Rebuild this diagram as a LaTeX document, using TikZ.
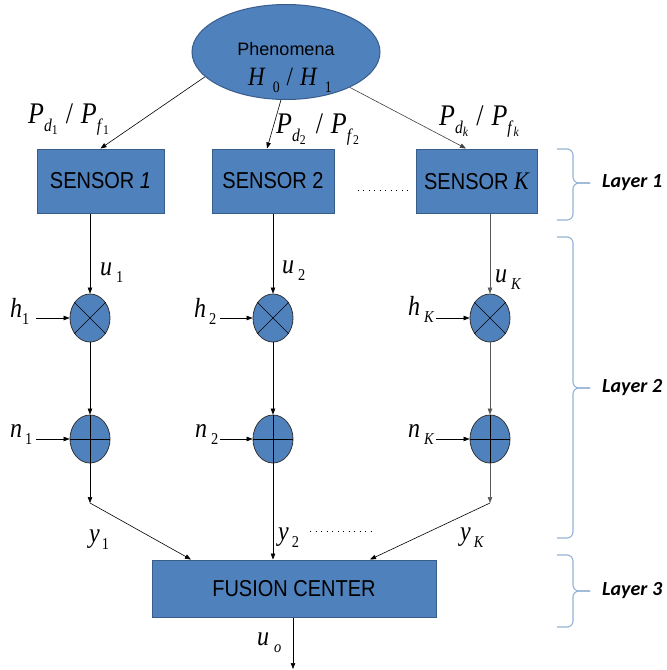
\documentclass[tikz,border=0pt]{standalone}
\usepackage{fontspec}
\usepackage{graphicx}
\usetikzlibrary{arrows.meta,shapes.geometric,calc}
\newfontfamily\arialf{Liberation Sans}
\newfontfamily\timesf{Liberation Serif}
\newfontfamily\calf{Carlito}
\definecolor{boxfill}{HTML}{4F81BD}
\definecolor{boxline}{HTML}{385D8A}
\definecolor{bracec}{HTML}{95B3D7}
\newcommand{\vs}[1]{\scalebox{1}[1.15]{#1}}
\newcommand{\ml}[3][0pt]{\textit{#2}\hspace{#1}\raisebox{-0.28em}{\scalebox{0.6}{#3}}}
\newcommand{\pp}[2]{\ml{P}{\textit{#1}\raisebox{-0.2em}{\scalebox{0.75}{#2}}}}
\begin{document}
\begin{tikzpicture}[x=1pt,y=-1pt,
  arr/.style={-{Triangle[length=6pt,width=4.5pt]}, line width=0.6pt},
  sbox/.style={rectangle, draw=boxline, fill=boxfill, line width=1pt, inner sep=0pt, minimum height=64pt, font=\arialf\fontsize{20}{20}\selectfont},
  op/.style={ellipse, draw=black!80, fill=boxfill, line width=0.8pt, minimum width=40pt, minimum height=48pt, inner sep=0pt},
  mlab/.style={font=\timesf\fontsize{24}{24}\selectfont, inner sep=0pt, anchor=base west},
  plab/.style={font=\timesf\fontsize{26}{26}\selectfont, inner sep=0pt, anchor=base west},
  brc/.style={draw=bracec, line width=1.1pt, rounded corners=6pt},
  llab/.style={font=\calf\bfseries\itshape\fontsize{20}{20}\selectfont, anchor=west, inner sep=0pt},
  dots/.style={line width=1pt, dash pattern=on 1pt off 4.5pt}]
\fill[white] (0,0) rectangle (667,670);
\useasboundingbox (0,0) rectangle (667,670);

% phenomena
\node[ellipse, draw=boxline, fill=boxfill, line width=1pt, minimum width=188pt, minimum height=95pt, inner sep=0pt] (phen) at (286,52) {};
\node[anchor=base, font=\arialf\fontsize{18}{18}\selectfont, inner sep=0pt] (phtxt) at (286,55) {Phenomena};
\node[font=\timesf\fontsize{23}{23}\selectfont, inner sep=0pt, anchor=base west] (hyp) at (248,85) {\vs{\ml[7pt]{H}{0}\hspace{7pt}/\hspace{7pt}\ml[7pt]{H}{1}}};

% sensors
\node[sbox, minimum width=127pt] (s1) at (100.5,181) {\vs{SENSOR \textit{1}}};
\node[sbox, minimum width=122pt] (s2) at (273,181) {\vs{SENSOR 2}};
\node[sbox, minimum width=121pt] (sK) at (476.5,181) {\vs{SENSOR {\timesf\itshape\fontsize{22}{22}\selectfont K}}};

% probability labels
\node[plab] (pl1) at (28,123) {\vs{\pp{d}{1}\hspace{8pt}/\hspace{8pt}\pp{f}{1}}};
\node[plab] (pl2) at (276,133) {\vs{\pp{d}{2}\hspace{10pt}/\hspace{8pt}\pp{f}{2}}};
\node[plab] (plK) at (439,125) {\vs{\pp{d}{\textit{k}}\hspace{8pt}/\hspace{8pt}\pp{f}{\textit{k}}}};

% multipliers and adders
\foreach \n/\x in {1/90,2/273,K/490}{
  \node[op] (m\n) at (\x,318) {};
  \node[op] (a\n) at (\x,439) {};
  \draw[line width=0.6pt] (m\n.45) -- (m\n.225) (m\n.135) -- (m\n.315);
  \draw[line width=0.6pt] (a\n.north) -- (a\n.south) (a\n.west) -- (a\n.east);
}

% fusion center
\node[sbox, minimum width=284pt, minimum height=57pt] (fc) at (294,588.5) {\vs{FUSION CENTER}};

% connectors from phenomena
\draw[arr] (phen.197) -- (s1.north);
\draw[arr] (phen.264) -- ([xshift=-6pt]s2.north);
\draw[arr, black!75] (phen.331) -- ([xshift=-10.5pt]sK.north);

% sensors to multipliers
\draw[arr] (s1.south -| m1.north) -- (m1.north);
\draw[arr] (s2.south) -- (m2.north);
\draw[arr, black!65] (sK.south -| mK.north) -- (mK.north);

% multipliers to adders
\draw[arr] (m1.south) -- (a1.north);
\draw[arr] (m2.south) -- (a2.north);
\draw[arr, black!65] (mK.south) -- (aK.north);

% inputs h and n
\coordinate (h1s) at (36,318);
\coordinate (h2s) at (220,318);
\coordinate (hKs) at (436,318);
\coordinate (n1s) at (36,439);
\coordinate (n2s) at (220,439);
\coordinate (nKs) at (436,439);
\draw[arr] (h1s) -- (m1.west);
\draw[arr] (h2s) -- (m2.west);
\draw[arr] (hKs) -- (mK.west);
\draw[arr] (n1s) -- (a1.west);
\draw[arr] (n2s) -- (a2.west);
\draw[arr] (nKs) -- (aK.west);

% adders to fusion center
\coordinate (j1) at (90,503);
\coordinate (jK) at (490,503);
\draw[arr] (a1.south) -- (j1);
\draw[arr] (j1) -- ([xshift=-103pt]fc.north);
\draw[arr] (a2.south) -- (a2.south |- fc.north);
\draw[arr, black!65] (aK.south) -- (jK);
\draw[arr] (jK) -- ([xshift=76pt]fc.north);

% output
\coordinate (out) at (293,669);
\draw[arr] (fc.south -| out) -- (out);

% labels
\node[mlab] (lh1) at (10,317) {\vs{\ml{h}{1}}};
\node[mlab] (lh2) at (194,317) {\vs{\ml[3pt]{h}{2}}};
\node[mlab] (lhK) at (408,315) {\vs{\ml[4pt]{h}{\textit{K}}}};
\node[mlab] (ln1) at (10,437) {\vs{\ml[3pt]{n}{1}}};
\node[mlab] (ln2) at (195,437) {\vs{\ml[4pt]{n}{2}}};
\node[mlab] (lnK) at (408,437) {\vs{\ml[4pt]{n}{\textit{K}}}};
\node[mlab] (lu1) at (100,275) {\vs{\ml[4pt]{u}{1}}};
\node[mlab] (lu2) at (282,273) {\vs{\ml[4pt]{u}{2}}};
\node[mlab] (luK) at (495,282) {\vs{\ml[4pt]{u}{\textit{K}}}};
\node[mlab] (ly1) at (89,542) {\vs{\ml[2pt]{y}{1}}};
\node[mlab] (ly2) at (278,540) {\vs{\ml[3pt]{y}{2}}};
\node[mlab] (lyK) at (460,540) {\vs{\ml[3pt]{y}{\textit{K}}}};
\node[mlab] (luo) at (257,645) {\vs{\ml[5pt]{u}{\textit{o}}}};

% dotted ellipses
\draw[dots] ([xshift=23pt,yshift=-9pt]s2.east) -- ([xshift=-4pt,yshift=-9pt]sK.west);
\draw[dots] (310,531) -- (374,531);

% braces
\draw[brc] (557,149) -| (573,183) -- (590,183);
\draw[brc] (590,183) -- (573,183) |- (557,220);
\draw[brc] (557,237) -| (573,388) -- (590,388);
\draw[brc] (590,388) -- (573,388) |- (557,538);
\draw[brc] (557,555) -| (573,591) -- (590,591);
\draw[brc] (590,591) -- (573,591) |- (557,627);
\node[llab] (L1) at (602,183) {Layer 1};
\node[llab] (L2) at (602,388) {Layer 2};
\node[llab] (L3) at (602,591) {Layer 3};
\end{tikzpicture}
\end{document}
